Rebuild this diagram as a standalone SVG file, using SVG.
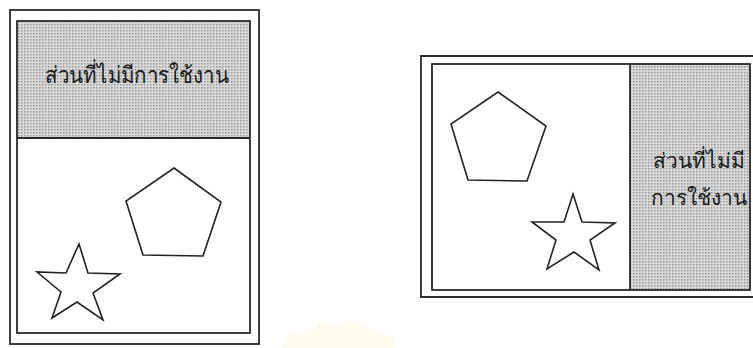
<svg xmlns="http://www.w3.org/2000/svg" width="753" height="348" viewBox="0 0 753 348">
  <defs>
    <pattern id="dots" width="3" height="3" patternUnits="userSpaceOnUse">
      <rect width="3" height="3" fill="#d8d8d8"/>
      <rect x="0" y="0" width="1.5" height="1.5" fill="#9a9a9a"/>
    </pattern>
  </defs>
  <style>
    .frame { fill: none; stroke: #2a2a2a; stroke-width: 1.8; }
    .shape { fill: none; stroke: #222; stroke-width: 1.6; stroke-linejoin: miter; }
    .shade { fill: url(#dots); }
    .lbl { font-family: "Noto Sans", "DejaVu Sans", "Liberation Serif", serif; font-size: 23px; fill: #1a1a1a; }
    .lbl2 { font-family: "Noto Sans", "DejaVu Sans", "Liberation Serif", serif; font-size: 21px; fill: #1a1a1a; }
  </style>
  <rect width="753" height="348" fill="#ffffff"/>

  <g id="watermark" opacity="0.15">
    <path d="M282 348 L290 334 L310 330 L322 322 L338 326 L352 320 L370 330 L392 336 L396 348 Z" fill="#f6dc8a"/>
  </g>

  <g id="left-panel">
    <rect class="frame" x="10" y="10" width="249" height="334"/>
    <rect class="shade" x="17" y="21" width="233" height="117"/>
    <rect class="frame" x="17" y="21" width="233" height="312"/>
    <line class="frame" x1="17" y1="138" x2="250" y2="138"/>
    <text class="lbl" x="137" y="83" text-anchor="middle" textLength="184" lengthAdjust="spacingAndGlyphs">ส่วนที่ไม่มีการใช้งาน</text>
  </g>
  <g id="left-pentagon">
    <polygon class="shape" points="174,168 221,202 203,256 143,255 126,201"/>
  </g>
  <g id="left-star">
    <polygon class="shape" points="79,244 88,273 120,274 93,293 103,320 77,302 52,318 61,292 37,272 66,273"/>
  </g>

  <g id="right-panel">
    <path class="frame" d="M753,56 H421 V297 H753"/>
    <rect class="shade" x="630" y="64" width="120" height="226"/>
    <rect class="frame" x="432" y="64" width="318" height="226"/>
    <line class="frame" x1="630" y1="64" x2="630" y2="290"/>
    <text class="lbl2" x="699" y="168" text-anchor="middle">ส่วนที่ไม่มี</text>
    <text class="lbl2" x="699" y="205" text-anchor="middle">การใช้งาน</text>
  </g>
  <g id="right-pentagon">
    <polygon class="shape" points="498,92 546,126 527,181 468,180 451,124"/>
  </g>
  <g id="right-star">
    <polygon class="shape" points="573,194 582,222 615,223 590,240 599,270 574,252 547,269 556,240 532,222 564,222"/>
  </g>

  <g id="connectors"></g>
</svg>
